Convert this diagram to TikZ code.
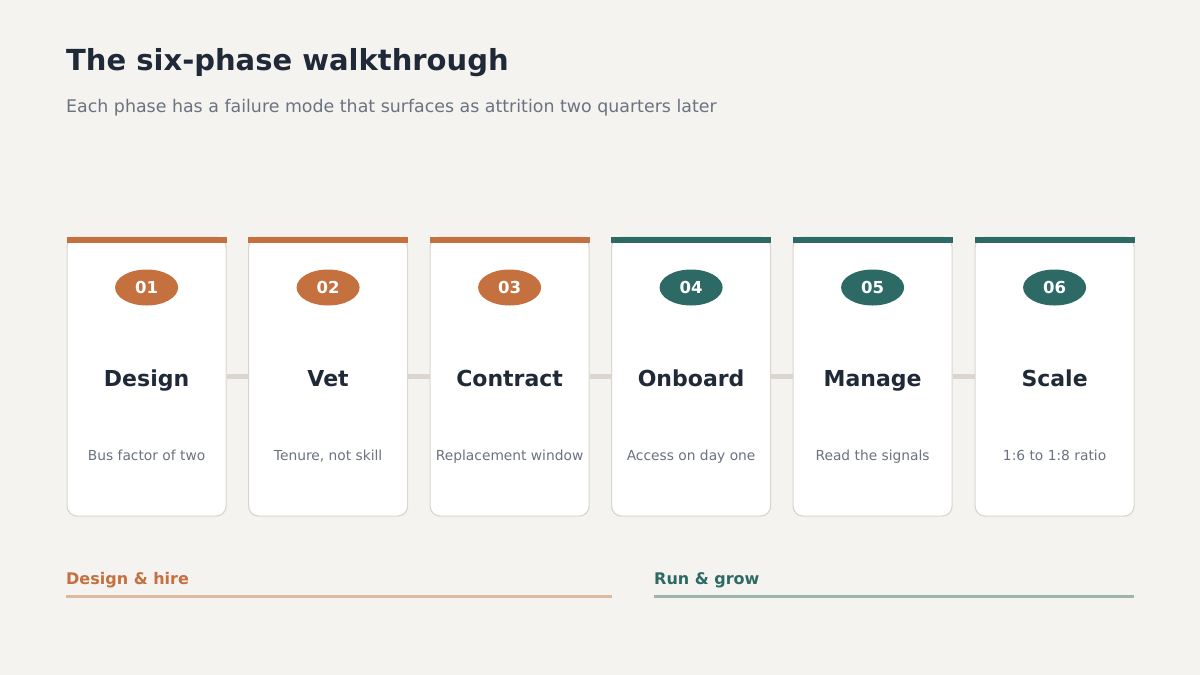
\documentclass[tikz,border=0pt]{standalone}
\usepackage{fontspec}
\setmainfont{DejaVu Sans}
\usetikzlibrary{shapes.geometric}
\definecolor{bgpage}{HTML}{F4F3EF}
\definecolor{rust}{HTML}{C4703F}
\definecolor{pine}{HTML}{2D6A66}
\definecolor{ink}{HTML}{1F2937}
\definecolor{slate}{HTML}{6B7280}
\definecolor{rim}{HTML}{DAD6CD}
\definecolor{rustlight}{HTML}{DDB9A0}
\definecolor{pinelight}{HTML}{9CB5AE}

\begin{document}
\begin{tikzpicture}[x=1pt, y=-1pt,
	card/.style={rectangle, draw=rim, line width=1.2pt, fill=white, rounded corners=10pt, minimum width=159pt, minimum height=279pt, anchor=north west, inner sep=0pt},
	badge/.style={ellipse, minimum width=63pt, minimum height=36pt, inner sep=0pt, text=white, font=\fontsize{16.5}{18}\selectfont\bfseries},
	phase/.style={anchor=base, text=ink, font=\fontsize{22}{24}\selectfont\bfseries},
	note/.style={anchor=base, text=slate, font=\fontsize{13.8}{15}\selectfont},
	link/.style={draw=rim, line width=5pt}]
	 % page
	 \fill[bgpage] (0,0) rectangle (1200,675);
	 \node[anchor=base west, inner sep=0pt, text=ink, font=\fontsize{29}{32}\selectfont\bfseries] (title) at (66,70) {The six-phase walkthrough};
	 \node[anchor=base west, inner sep=0pt, text=slate, font=\fontsize{17.4}{20}\selectfont] (subtitle) at (66,112) {Each phase has a failure mode that surfaces as attrition two quarters later};
	 %
	 \node[card] (d1) at (66.5,236.5) {};
	 \node[card] (d2) at (248,236.5) {};
	 \node[card] (d3) at (429.5,236.5) {};
	 \node[card] (d4) at (611,236.5) {};
	 \node[card] (d5) at (792.5,236.5) {};
	 \node[card] (d6) at (974.5,236.5) {};
	 \draw[link] (d1.east) -- (d2.west);
	 \draw[link] (d2.east) -- (d3.west);
	 \draw[link] (d3.east) -- (d4.west);
	 \draw[link] (d4.east) -- (d5.west);
	 \draw[link] (d5.east) -- (d6.west);
	 % top bars
	 \fill[rust] (d1.north west) rectangle ([yshift=-6pt]d1.north east);
	 \fill[rust] (d2.north west) rectangle ([yshift=-6pt]d2.north east);
	 \fill[rust] (d3.north west) rectangle ([yshift=-6pt]d3.north east);
	 \fill[pine] (d4.north west) rectangle ([yshift=-6pt]d4.north east);
	 \fill[pine] (d5.north west) rectangle ([yshift=-6pt]d5.north east);
	 \fill[pine] (d6.north west) rectangle ([yshift=-6pt]d6.north east);
	 % numbers
	 \node[badge, fill=rust] (n1) at ([yshift=-51pt]d1.north) {01};
	 \node[badge, fill=rust] (n2) at ([yshift=-51pt]d2.north) {02};
	 \node[badge, fill=rust] (n3) at ([yshift=-51pt]d3.north) {03};
	 \node[badge, fill=pine] (n4) at ([yshift=-51pt]d4.north) {04};
	 \node[badge, fill=pine] (n5) at ([yshift=-51pt]d5.north) {05};
	 \node[badge, fill=pine] (n6) at ([yshift=-51pt]d6.north) {06};
	 % names
	 \node[phase] (p1) at ([yshift=-150pt]d1.north) {Design};
	 \node[phase] (p2) at ([yshift=-150pt]d2.north) {Vet};
	 \node[phase] (p3) at ([yshift=-150pt]d3.north) {Contract};
	 \node[phase] (p4) at ([yshift=-150pt]d4.north) {Onboard};
	 \node[phase] (p5) at ([yshift=-150pt]d5.north) {Manage};
	 \node[phase] (p6) at ([yshift=-150pt]d6.north) {Scale};
	 % failure modes
	 \node[note] (f1) at ([yshift=-224pt]d1.north) {Bus factor of two};
	 \node[note] (f2) at ([yshift=-224pt]d2.north) {Tenure, not skill};
	 \node[note] (f3) at ([yshift=-224pt]d3.north) {Replacement window};
	 \node[note] (f4) at ([yshift=-224pt]d4.north) {Access on day one};
	 \node[note] (f5) at ([yshift=-224pt]d5.north) {Read the signals};
	 \node[note] (f6) at ([yshift=-224pt]d6.north) {1:6 to 1:8 ratio};
	 %
	 \node[anchor=base west, inner sep=0pt, text=rust, font=\fontsize{16}{18}\selectfont\bfseries] (hire) at (66,584) {Design \& hire};
	 \node[anchor=base west, inner sep=0pt, text=pine, font=\fontsize{16}{18}\selectfont\bfseries] (grow) at (654,584) {Run \& grow};
	 \coordinate (hireend) at (612,596);
	 \coordinate (growend) at (1134,596);
	 \draw[rustlight, line width=3pt] (hire.west |- hireend) -- (hireend);
	 \draw[pinelight, line width=3pt] (grow.west |- growend) -- (growend);
\end{tikzpicture}
\end{document}
